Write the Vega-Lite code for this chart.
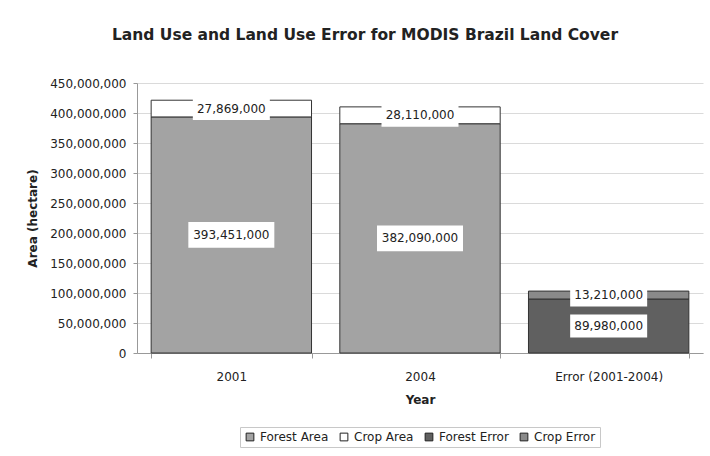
{
  "$schema": "https://vega.github.io/schema/vega-lite/v6.json",
  "width": 566,
  "height": 270,
  "autosize": "none",
  "padding": {"left": 137, "top": 83, "right": 7, "bottom": 103},
  "background": "white",
  "config": {
    "font": "DejaVu Sans",
    "view": {"stroke": null},
    "axis": {"labelFont": "DejaVu Sans", "titleFont": "DejaVu Sans", "labelColor": "#222", "titleColor": "#222"},
    "axisY": {
      "values": [0, 50000000, 100000000, 150000000, 200000000, 250000000, 300000000, 350000000, 400000000, 450000000],
      "format": ",d",
      "labelFontSize": 12,
      "labelPadding": 7,
      "labelOverlap": false,
      "tickSize": 4,
      "tickColor": "#999",
      "domainColor": "#999",
      "gridColor": "#dadada",
      "titleFontSize": 12,
      "titleFontWeight": "bold",
      "titlePadding": 10
    },
    "legend": {"labelFont": "DejaVu Sans"}
  },
  "title": {
    "text": "Land Use and Land Use Error for MODIS Brazil Land Cover",
    "font": "DejaVu Sans",
    "fontSize": 15.5,
    "fontWeight": "bold",
    "color": "#222",
    "anchor": "middle",
    "frame": "group",
    "dx": -55,
    "offset": 34
  },
  "data": {
    "values": [
      {"year": "2001", "type": "Forest Area", "value": 393451000},
      {"year": "2001", "type": "Crop Area", "value": 27869000},
      {"year": "2004", "type": "Forest Area", "value": 382090000},
      {"year": "2004", "type": "Crop Area", "value": 28110000},
      {"year": "Error (2001-2004)", "type": "Forest Error", "value": 89980000},
      {"year": "Error (2001-2004)", "type": "Crop Error", "value": 13210000}
    ]
  },
  "encoding": {
    "x": {
      "field": "year",
      "type": "nominal",
      "sort": null,
      "scale": {"paddingInner": 0.15, "paddingOuter": 0.075},
      "axis": {
        "title": "Year",
        "labelAngle": 0,
        "labelFontSize": 12,
        "labelPadding": 13,
        "titleFontSize": 12,
        "titleFontWeight": "bold",
        "titlePadding": 12,
        "tickBand": "extent",
        "tickSize": 5,
        "tickColor": "#999",
        "domainColor": "#999",
        "grid": false
      }
    }
  },
  "layer": [
    {
      "mark": {"type": "bar", "stroke": "#333", "strokeWidth": 1},
      "encoding": {
        "y": {
          "field": "value",
          "type": "quantitative",
          "stack": "zero",
          "scale": {"domain": [0, 450000000]},
          "title": "Area (hectare)"
        },
        "color": {
          "field": "type",
          "type": "nominal",
          "scale": {
            "domain": ["Forest Area", "Crop Area", "Forest Error", "Crop Error"],
            "range": ["#a3a3a3", "#ffffff", "#606060", "#8a8a8a"]
          },
          "legend": {
            "title": null,
            "orient": "none",
            "direction": "horizontal",
            "legendX": 103,
            "legendY": 344,
            "symbolType": "square",
            "symbolSize": 60,
            "symbolStrokeColor": "#222",
            "symbolStrokeWidth": 1,
            "labelFontSize": 12,
            "labelColor": "#222",
            "labelOffset": 4,
            "columnPadding": 9,
            "strokeColor": "#c8c8c8",
            "padding": 4
          }
        },
        "order": {"field": "type", "sort": "descending"}
      }
    },
    {
      "transform": [
        {"stack": "value", "groupby": ["year"], "sort": [{"field": "type", "order": "descending"}], "as": ["v0", "v1"]},
        {"calculate": "(datum.v0 + datum.v1) / 2", "as": "mid"}
      ],
      "layer": [
        {
          "mark": {"type": "point", "filled": true, "fill": "white", "opacity": 1, "strokeWidth": 0, "shape": "M-1,-0.3L1,-0.3L1,0.3L-1,0.3Z"},
          "encoding": {
            "y": {"field": "mid", "type": "quantitative", "title": "Area (hectare)"},
            "size": {"condition": {"test": "datum.value >= 100000000", "value": 7396}, "value": 5929}
          }
        },
        {
          "mark": {"type": "text", "fontSize": 12, "color": "#222", "font": "DejaVu Sans", "baseline": "middle"},
          "encoding": {
            "y": {"field": "mid", "type": "quantitative", "title": "Area (hectare)"},
            "text": {"field": "value", "type": "quantitative", "format": ","}
          }
        }
      ]
    }
  ]
}
